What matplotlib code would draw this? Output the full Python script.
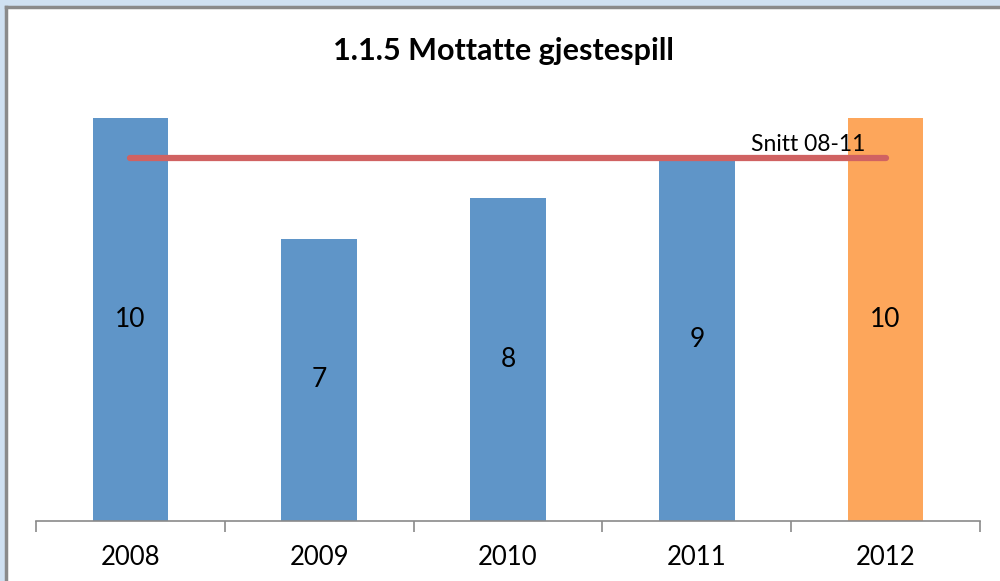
import matplotlib
matplotlib.use("Agg")
import matplotlib.pyplot as plt
import numpy as np

years = ["2008", "2009", "2010", "2011", "2012"]
values = [10, 7, 8, 9, 10]
bar_colors = ["#5F95C8", "#5F95C8", "#5F95C8", "#5F95C8", "#FDA65B"]
avg_value = 9
avg_label = "Snitt 08-11"
title = "1.1.5 Mottatte gjestespill"

plt.rcParams['font.family'] = ['Lato', 'DejaVu Sans']

fig = plt.figure(figsize=(10, 5.81), dpi=100)
fig.patch.set_facecolor("#CFE0F1")
# white chart panel with gray border on top/left
bg = fig.add_axes([0.006, -0.05, 1.05, 1.038])
bg.set_facecolor("white")
bg.set_xticks([]); bg.set_yticks([])
for s in ["right", "bottom"]:
    bg.spines[s].set_visible(False)
for s in ["top", "left"]:
    bg.spines[s].set_color("#8A8A8A")
    bg.spines[s].set_linewidth(2.5)
bg.set_zorder(0)

ax = fig.add_axes([0.036, 0.1033, 0.944, 0.694])
ax.set_facecolor("none")
ax.set_zorder(1)
x = np.arange(len(years))
ax.bar(x, values, width=0.40, color=bar_colors, zorder=2)
for xi, v in zip(x, values):
    ax.text(xi, v / 2, str(v), ha="center", va="center", fontsize=19, color="black", zorder=4)

ax.plot([x[0], x[-1]], [avg_value, avg_value], color="#D06262", linewidth=4.5,
        solid_capstyle="round", zorder=3)
ax.text(x[-1] - 0.41, avg_value + 0.08, avg_label, ha="center", va="bottom",
        fontsize=16.5, color="black", zorder=4)

ax.set_xlim(-0.5, len(years) - 0.5)
ax.set_ylim(0, 10)
for s in ["top", "right", "left"]:
    ax.spines[s].set_visible(False)
ax.spines["bottom"].set_color("#8A8A8A")
ax.spines["bottom"].set_linewidth(1.2)
ax.set_yticks([])
ax.set_xticks(x)
ax.set_xticklabels(years, fontsize=18.5)
ax.tick_params(axis="x", which="major", length=0, pad=17)
ax.set_xticks(np.arange(-0.5, len(years)), minor=True)
ax.tick_params(axis="x", which="minor", length=8, width=1.2, color="#8A8A8A", direction="out")

fig.text(0.503, 0.913, title, ha="center", va="center", fontsize=22, fontweight="bold")

fig.savefig("out.png", dpi=100, facecolor=fig.get_facecolor())
